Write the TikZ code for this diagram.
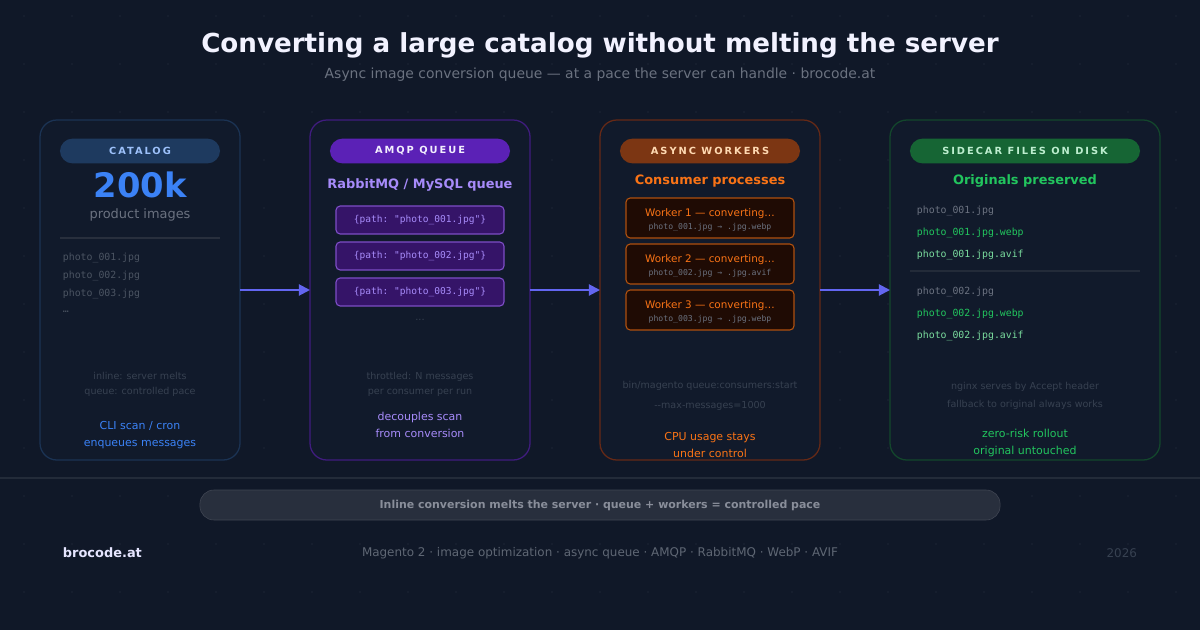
\documentclass[tikz,border=0pt]{standalone}
\usepackage{fontspec}
\setmainfont{DejaVu Sans}
\setmonofont{DejaVu Sans Mono}
\usetikzlibrary{arrows.meta}
\definecolor{bg}{HTML}{101828}
\definecolor{cardbg}{HTML}{111A2B}
\definecolor{dimtxt}{HTML}{374151}
\definecolor{graytxt}{HTML}{6B7280}
\definecolor{catb}{HTML}{1E3A5F}\definecolor{catt}{HTML}{3B82F6}
\definecolor{qb}{HTML}{4C1D95}\definecolor{qp}{HTML}{5B21B6}\definecolor{qt}{HTML}{A78BFA}
\definecolor{wb}{HTML}{7C2D12}\definecolor{wp}{HTML}{7C3613}\definecolor{wt}{HTML}{F97316}
\definecolor{sb}{HTML}{14532D}\definecolor{sp}{HTML}{166534}\definecolor{st}{HTML}{22C55E}
\definecolor{flow}{HTML}{6366F1}
\newcommand{\px}[1]{\fontsize{#1}{#1}\selectfont}
\tikzset{
  card/.style={draw=#1!80!bg, fill=cardbg, line width=0.9pt, rounded corners=12pt},
  pill/.style={fill=#1, rounded corners=9pt, minimum width=4cm, minimum height=0.62cm,
    font=\px{7pt}\bfseries\addfontfeature{LetterSpace=20}, inner sep=0pt},
  mono/.style={font=\ttfamily\px{7pt}, anchor=west},
  note/.style={font=\px{6.8pt}, text=dimtxt, align=center},
  flowarrow/.style={draw=flow, line width=1.4pt, -{Triangle[length=8pt,width=8pt]}},
  msg/.style={draw=qp!80!white, fill=qb!70!black, rounded corners=3pt, line width=0.8pt,
    minimum width=4.2cm, minimum height=0.7cm, font=\ttfamily\px{6.8pt}, text=qt},
  job/.style={draw=wt!70!black, fill=wb!25!black, rounded corners=3pt, line width=0.8pt,
    minimum width=4.2cm, minimum height=1cm},
}
\begin{document}
\begin{tikzpicture}[x=0.025cm, y=-0.025cm]
\useasboundingbox (0,0) rectangle (1200,630);
\fill[bg] (0,0) rectangle (1200,630);
\foreach \i in {0,...,24} \foreach \j in {0,...,12}
  \fill[white!6!bg] (\i*48+24,\j*48+16) circle (0.6pt);
% header
\node[font=\px{18.6pt}\bfseries, text=white!95!blue] (title) at (600,45) {Converting a large catalog without melting the server};
\node[font=\px{9.9pt}, text=graytxt] (subtitle) at (600,75) {Async image conversion queue — at a pace the server can handle · brocode.at};
% catalog
\draw[card=catb] (40,120) rectangle (240,460);
\node[pill=catb, text=catt!50!white] (catpill) at (140,151) {CATALOG};
\node[font=\px{24pt}\bfseries, text=catt] (count) at (140,185) {200k};
\node[font=\px{9.2pt}, text=graytxt] (countlbl) at (140,215) {product images};
\draw[white!10!bg, line width=1pt] (60,238) -- (220,238);
\node[mono, text=dimtxt!90!white] (c1) at (58,258) {photo\_001.jpg};
\node[mono, text=dimtxt!90!white] (c2) at (58,276) {photo\_002.jpg};
\node[mono, text=dimtxt!90!white] (c3) at (58,294) {photo\_003.jpg};
\node[mono, text=dimtxt!90!white] (c4) at (58,312) {…};
\node[note] (catnote) at (140,384) {inline: server melts\\[4pt]queue: controlled pace};
\node[font=\px{7.8pt}, text=catt, align=center] (catfoot) at (140,435) {CLI scan / cron\\[4pt]enqueues messages};
% queue
\draw[card=qb] (310,120) rectangle (530,460);
\node[pill=qp, minimum width=4.5cm, text=white!85!qt] (qpill) at (420,151) {AMQP QUEUE};
\node[font=\px{9.2pt}\bfseries, text=qt] (qtitle) at (420,185) {RabbitMQ / MySQL queue};
\foreach \n [count=\k] in {001,002,003}
  \node[msg] (m\k) at (420,184+36*\k) {\{path: "photo\_\n.jpg"\}};
\node[font=\px{7pt}, text=dimtxt] (qdots) at (420,320) {...};
\node[note] (qnote) at (420,384) {throttled: N messages\\[4pt]per consumer per run};
\node[font=\px{7.8pt}, text=qt, align=center] (qfoot) at (420,425) {decouples scan\\[4pt]from conversion};
% workers
\draw[card=wb] (600,120) rectangle (820,460);
\node[pill=wp, minimum width=4.5cm, text=orange!30!white] (wpill) at (710,151) {ASYNC WORKERS};
\node[font=\px{9.2pt}\bfseries, text=wt] (wtitle) at (710,181) {Consumer processes};
\foreach \n/\ext [count=\k] in {001/webp,002/avif,003/webp} {
  \node[job] (w\k) at (710,172+46*\k) {};
  \node[font=\px{7.4pt}, text=wt] at (710,168+46*\k) {Worker \k\ — converting…};
  \node[font=\ttfamily\px{5.8pt}, text=graytxt] at (710,181+46*\k) {photo\_\n.jpg → .jpg.\ext};
}
\node[note] (wnote) at (710,396) {bin/magento queue:consumers:start\\[7pt]-\kern0pt-max-messages=1000};
\node[font=\px{7.8pt}, text=wt, align=center] (wfoot) at (710,445) {CPU usage stays\\[4pt]under control};
% sidecar
\draw[card=sb] (890,120) rectangle (1160,460);
\node[pill=sp, minimum width=5.75cm, text=st!30!white] (spill) at (1025,151) {SIDECAR FILES ON DISK};
\node[font=\px{9.2pt}\bfseries, text=st] (stitle) at (1025,181) {Originals preserved};
\node[mono, text=graytxt] (s1) at (912,211) {photo\_001.jpg};
\node[mono, text=st] (s2) at (912,233) {photo\_001.jpg.webp};
\node[mono, text=st!60!white] (s3) at (912,255) {photo\_001.jpg.avif};
\draw[white!8!bg, line width=1pt] (910,271) -- (1140,271);
\node[mono, text=graytxt] (s4) at (912,292) {photo\_002.jpg};
\node[mono, text=st] (s5) at (912,314) {photo\_002.jpg.webp};
\node[mono, text=st!60!white] (s6) at (912,336) {photo\_002.jpg.avif};
\node[note] (snote) at (1025,396) {nginx serves by Accept header\\[6pt]fallback to original always works};
\node[font=\px{7.8pt}, text=st, align=center] (sfoot) at (1025,443) {zero-risk rollout\\[4pt]original untouched};
% flow
\coordinate (a0) at (240,290); \coordinate (a1) at (310,290);
\coordinate (b0) at (530,290); \coordinate (b1) at (600,290);
\coordinate (d0) at (820,290); \coordinate (d1) at (890,290);
\draw[flowarrow] (a0) -- (a1);
\draw[flowarrow] (b0) -- (b1);
\draw[flowarrow] (d0) -- (d1);
% footer
\draw[white!8!bg, line width=1pt] (0,478) -- (1200,478);
\node[draw=white!20!bg, fill=white!10!bg, rounded corners=10pt, minimum width=20cm, minimum height=0.75cm,
  font=\px{7.8pt}\bfseries, text=graytxt!80!white] (banner) at (600,505) {Inline conversion melts the server · queue + workers = controlled pace};
\node[font=\px{9.2pt}\bfseries, text=white!90!blue, anchor=west] (brand) at (58,553) {brocode.at};
\node[font=\px{8.5pt}, text=dimtxt!80!white] (tags) at (600,553) {Magento 2 · image optimization · async queue · AMQP · RabbitMQ · WebP · AVIF};
\node[font=\px{8.5pt}, text=dimtxt, anchor=east] (year) at (1142,553) {2026};
\end{tikzpicture}
\end{document}
